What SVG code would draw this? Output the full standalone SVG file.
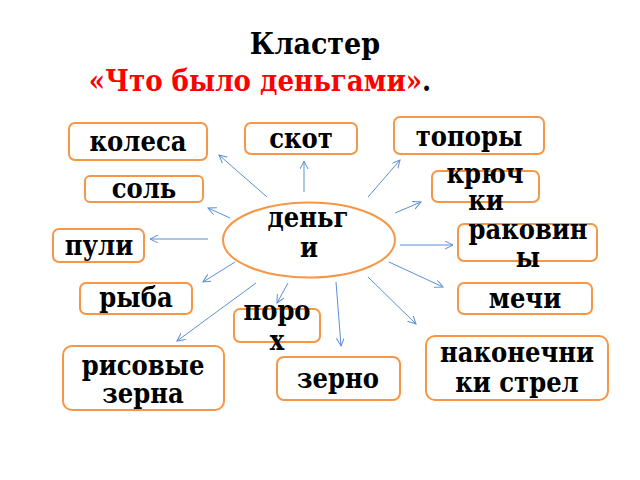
<svg xmlns="http://www.w3.org/2000/svg" width="640" height="480" viewBox="0 0 640 480">
<defs>
<marker id="ah" markerWidth="10" markerHeight="10" refX="8" refY="4" orient="auto" markerUnits="userSpaceOnUse">
<path d="M0,0 L8,4 L0,8" fill="none" stroke="#5B8FD6" stroke-width="1"/>
</marker>
</defs>
<style>
.box{fill:#fff;stroke:#F79646;stroke-width:2}
.t{font-family:"DejaVu Serif Condensed","DejaVu Serif",serif;font-stretch:condensed;font-weight:bold;font-size:27px;fill:#000;text-anchor:middle}
.c{stroke:#5B8FD6;stroke-width:1;fill:none;marker-end:url(#ah)}
.ti{font-family:"DejaVu Serif Condensed","DejaVu Serif",serif;font-stretch:condensed;font-weight:bold;text-anchor:middle}
</style>
<rect width="640" height="480" fill="#fff"/>
<g id="title">
<text class="ti" x="315" y="54" font-size="30" fill="#000">Кластер</text>
<text class="ti" x="260" y="91" font-size="29"><tspan fill="#FF0000">«Что было деньгами»</tspan><tspan fill="#000">.</tspan></text>
</g>
<g id="connectors">
<line class="c" x1="267" y1="197" x2="219" y2="155"/>
<line class="c" x1="304" y1="192" x2="304" y2="161"/>
<line class="c" x1="368" y1="197" x2="400" y2="160"/>
<line class="c" x1="395" y1="213" x2="421" y2="202"/>
<line class="c" x1="230" y1="218" x2="208" y2="208"/>
<line class="c" x1="208" y1="239" x2="150" y2="239"/>
<line class="c" x1="400" y1="245" x2="453" y2="245"/>
<line class="c" x1="235" y1="262" x2="203" y2="282"/>
<line class="c" x1="389" y1="262" x2="443" y2="287"/>
<line class="c" x1="256" y1="283" x2="177" y2="341"/>
<line class="c" x1="288" y1="283" x2="277" y2="303"/>
<line class="c" x1="336" y1="282" x2="341" y2="346"/>
<line class="c" x1="368" y1="277" x2="416" y2="324"/>
</g>
<g id="center">
<ellipse cx="309" cy="240" rx="86" ry="37.5" fill="#fff" stroke="#F79646" stroke-width="2"/>
<text class="t" x="308" y="227">деньг</text>
<text class="t" x="309" y="257">и</text>
</g>
<g id="kolesa"><rect class="box" x="69" y="123" width="138" height="37" rx="6"/><text class="t" x="138" y="151">колеса</text></g>
<g id="skot"><rect class="box" x="245" y="123" width="112" height="31" rx="6"/><text class="t" x="301" y="148">скот</text></g>
<g id="topory"><rect class="box" x="394" y="117" width="150" height="37" rx="6"/><text class="t" x="469" y="146">топоры</text></g>
<g id="sol"><rect class="box" x="85" y="176" width="118" height="26" rx="5"/><text class="t" x="144" y="198">соль</text></g>
<g id="kryuchki"><rect class="box" x="432" y="171" width="107" height="31" rx="6"/><text class="t" x="485" y="183">крюч</text><text class="t" x="486" y="210">ки</text></g>
<g id="puli"><rect class="box" x="53" y="229" width="91" height="33" rx="6"/><text class="t" x="99" y="255">пули</text></g>
<g id="rakoviny"><rect class="box" x="458" y="224" width="139" height="37" rx="6"/><text class="t" x="528" y="239">раковин</text><text class="t" x="528" y="267">ы</text></g>
<g id="ryba"><rect class="box" x="80" y="283" width="112" height="31" rx="6"/><text class="t" x="136" y="307">рыба</text></g>
<g id="mechi"><rect class="box" x="458" y="283" width="134" height="31" rx="6"/><text class="t" x="525" y="308">мечи</text></g>
<g id="poroh"><rect class="box" x="234" y="309" width="86" height="33" rx="6"/><text class="t" x="277" y="320">поро</text><text class="t" x="277" y="350">х</text></g>
<g id="risovye"><rect class="box" x="63" y="346" width="161" height="64" rx="9"/><text class="t" x="143" y="375">рисовые</text><text class="t" x="143" y="403">зерна</text></g>
<g id="zerno"><rect class="box" x="277" y="357" width="123" height="43" rx="7"/><text class="t" x="338" y="388">зерно</text></g>
<g id="nakonechniki"><rect class="box" x="426" y="336" width="182" height="64" rx="9"/><text class="t" x="517" y="362">наконечни</text><text class="t" x="517" y="392">ки стрел</text></g>
</svg>
